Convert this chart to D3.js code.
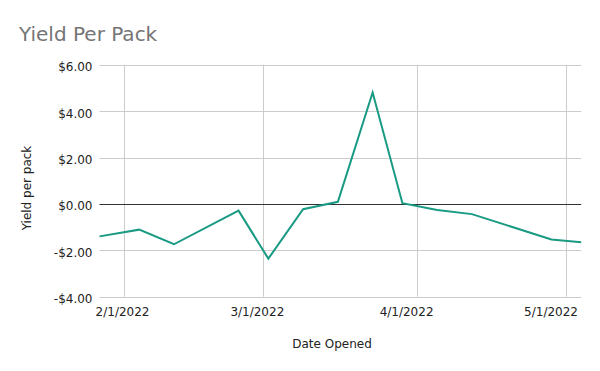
<!DOCTYPE html>
<html>
<head>
<meta charset="utf-8">
<script src="https://cdn.jsdelivr.net/npm/d3@7"></script>
<style>
  html, body { margin: 0; padding: 0; background: #fff; }
  svg { display: block; font-family: "DejaVu Sans", Verdana, sans-serif; }
</style>
</head>
<body>
<svg id="chart" width="600" height="371"></svg>
<script>
// ---- data ----
const dates = ["2022-01-27","2022-02-04","2022-02-11","2022-02-24","2022-03-02","2022-03-09",
               "2022-03-16","2022-03-23","2022-03-29","2022-04-05","2022-04-12","2022-04-28","2022-05-04"];
const yields = [-1.40, -1.11, -1.74, -0.29, -2.36, -0.23, 0.09, 4.80, 0.03, -0.26, -0.44, -1.53, -1.65];
const yTickValues = [-4, -2, 0, 2, 4, 6];
const yTickLabels = ["-$4.00", "-$2.00", "$0.00", "$2.00", "$4.00", "$6.00"];
const xTickDates = ["2022-02-01", "2022-03-01", "2022-04-01", "2022-05-01"];
const xTickLabels = ["2/1/2022", "3/1/2022", "4/1/2022", "5/1/2022"];
const chartTitle = "Yield Per Pack";
const xTitle = "Date Opened";
const yTitle = "Yield per pack";

(function () {
// ---- setup ----
const parse = s => { const [yy, m, d] = s.split("-").map(Number); return new Date(yy, m - 1, d); };
const pts = dates.map((d, i) => ({ date: parse(d), value: yields[i] }));
const tickDates = xTickDates.map(parse);

const svg = d3.select("#chart");
const pLeft = 99.5, pRight = 581.2, pTop = 64.7, pBottom = 296.7;

const x = d3.scaleTime().domain(d3.extent(pts, d => d.date)).range([pLeft, pRight]);
const y = d3.scaleLinear().domain([-4, 6]).range([pBottom, pTop]);
// labels in the reference sit slightly left of their gridlines
const xLabel = d3.scaleTime().domain(x.domain()).range(x.range().map(v => 1.49 + 0.9695 * v));

// title
svg.append("text").attr("x", 19).attr("y", 40.5)
  .attr("font-size", 20).attr("fill", "#757575").text(chartTitle);

// horizontal gridlines
svg.append("g").selectAll("line").data(yTickValues.filter(v => v !== 0)).join("line")
  .attr("x1", pLeft).attr("x2", pRight)
  .attr("y1", d => Math.round(y(d)) + 0.5).attr("y2", d => Math.round(y(d)) + 0.5)
  .attr("stroke", "#cccccc").attr("stroke-width", 1);

// vertical gridlines
svg.append("g").selectAll("line").data(tickDates).join("line")
  .attr("x1", d => Math.round(x(d)) + 0.5).attr("x2", d => Math.round(x(d)) + 0.5)
  .attr("y1", pTop).attr("y2", pBottom)
  .attr("stroke", "#cccccc").attr("stroke-width", 1);

// zero line
svg.append("line")
  .attr("x1", pLeft).attr("x2", pRight)
  .attr("y1", Math.round(y(0)) + 0.5).attr("y2", Math.round(y(0)) + 0.5)
  .attr("stroke", "#333333").attr("stroke-width", 1);

// y axis labels
const yAxis = d3.axisLeft(y).tickValues(yTickValues)
  .tickFormat((d, i) => yTickLabels[i]).tickSize(0).tickPadding(7);
const gy = svg.append("g").attr("transform", `translate(${pLeft},0)`).call(yAxis);
gy.select(".domain").remove();
gy.selectAll("text").attr("font-family", "DejaVu Sans, Verdana, sans-serif")
  .attr("font-size", 12).attr("fill", "#222").attr("dy", "0.5em");

// x axis labels
const xAxis = d3.axisBottom(xLabel).tickValues(tickDates)
  .tickFormat((d, i) => xTickLabels[i]).tickSize(0);
const gx = svg.append("g").attr("transform", `translate(0,${pBottom})`).call(xAxis);
gx.select(".domain").remove();
gx.selectAll("text").attr("font-family", "DejaVu Sans, Verdana, sans-serif")
  .attr("font-size", 12).attr("fill", "#222").attr("dy", null).attr("y", 19.3);

// axis titles
svg.append("text").attr("x", 332).attr("y", 348).attr("text-anchor", "middle")
  .attr("font-size", 12).attr("fill", "#222").text(xTitle);
svg.append("text").attr("transform", "translate(31,188) rotate(-90)")
  .attr("text-anchor", "middle").attr("font-size", 12).attr("fill", "#222").text(yTitle);

// line
const line = d3.line().x(d => x(d.date)).y(d => y(d.value));
svg.append("path").datum(pts).attr("d", line)
  .attr("fill", "none").attr("stroke", "#199a83").attr("stroke-width", 2)
  .attr("stroke-linejoin", "miter");
})();
</script>
</body>
</html>
